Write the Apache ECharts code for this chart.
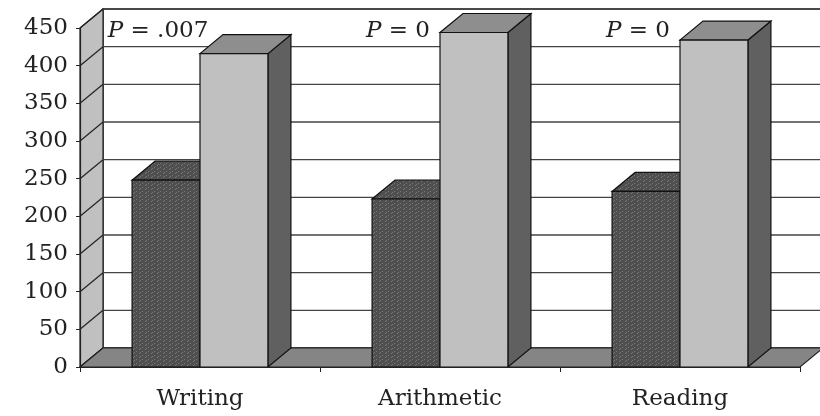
<!DOCTYPE html>
<html>
<head>
<meta charset="utf-8">
<script src="https://cdn.jsdelivr.net/npm/echarts@6/dist/echarts.min.js"></script>
<style>
  html, body { margin: 0; padding: 0; background: #fff; }
  #main { width: 820px; height: 416px; }
</style>
</head>
<body>
<div id="main"></div>
<script>
var categories = ['Writing', 'Arithmetic', 'Reading'];
var darkValues = [248, 223, 233];
var lightValues = [416, 444, 434];
var pLabels = ['P = .007', 'P = 0', 'P = 0'];
var yTicks = [0, 50, 100, 150, 200, 250, 300, 350, 400, 450];

// depth of the 3d box in pixels
var DX = 23, DY = -19;
var FONT = '"DejaVu Serif", "Liberation Serif", serif';

// little dotted texture for the dark bars
function makePattern() {
    var c = document.createElement('canvas');
    c.width = 6; c.height = 4;
    var ctx = c.getContext('2d');
    ctx.fillStyle = '#4f4f4f';
    ctx.fillRect(0, 0, 6, 4);
    ctx.fillStyle = '#787878';
    ctx.fillRect(1, 1, 1, 1);
    ctx.fillRect(4, 3, 1, 1);
    ctx.fillRect(2, 0, 1, 1);
    return { image: c, repeat: 'repeat' };
}
var darkFill = makePattern();

function renderWalls(params, api) {
    var cs = params.coordSys;
    var x0 = cs.x, x1 = cs.x + cs.width;
    var yt = cs.y, yb = cs.y + cs.height;
    var kids = [];
    kids.push({
        type: 'polygon',
        shape: { points: [[x0 + DX, yt + DY], [x1 + DX, yt + DY], [x1 + DX, yb + DY], [x0 + DX, yb + DY]] },
        style: { fill: '#fff', stroke: '#222', lineWidth: 1.5 }
    });
    kids.push({
        type: 'polygon',
        shape: { points: [[x0, yb], [x0, yt], [x0 + DX, yt + DY], [x0 + DX, yb + DY]] },
        style: { fill: '#c0c0c0', stroke: '#222', lineWidth: 1.2 }
    });
    for (var i = 0; i < yTicks.length; i++) {
        var y = api.coord([0, yTicks[i]])[1];
        kids.push({
            type: 'line',
            shape: { x1: x0 + DX, y1: y + DY, x2: x1 + DX, y2: y + DY },
            style: { stroke: '#444', lineWidth: 1.4 }
        });
        kids.push({
            type: 'line',
            shape: { x1: x0, y1: y, x2: x0 + DX, y2: y + DY },
            style: { stroke: '#222', lineWidth: 1.2 }
        });
    }
    kids.push({
        type: 'polygon',
        shape: { points: [[x0, yb], [x1, yb], [x1 + DX, yb + DY], [x0 + DX, yb + DY]] },
        style: { fill: '#858585', stroke: '#222', lineWidth: 1.2 }
    });
    return { type: 'group', children: kids };
}

function box(xl, xr, yTop, yBase, front, top, side) {
    return [
        {
            type: 'polygon',
            shape: { points: [[xr, yTop], [xr + DX, yTop + DY], [xr + DX, yBase + DY], [xr, yBase]] },
            style: { fill: side, stroke: '#111', lineWidth: 1.2 }
        },
        {
            type: 'polygon',
            shape: { points: [[xl, yTop], [xr, yTop], [xr + DX, yTop + DY], [xl + DX, yTop + DY]] },
            style: { fill: top, stroke: '#111', lineWidth: 1.2 }
        },
        {
            type: 'rect',
            shape: { x: xl, y: yTop, width: xr - xl, height: yBase - yTop },
            style: { fill: front, stroke: '#111', lineWidth: 1.2 }
        }
    ];
}

function renderBars(params, api) {
    var idx = api.value(0);
    var base = api.coord([idx, 0]);
    var cx = base[0], yb = base[1];
    var w = api.size([1, 0])[0] * 0.283;
    var yDark = api.coord([idx, api.value(1)])[1];
    var yLight = api.coord([idx, api.value(2)])[1];
    var kids = [];
    kids = kids.concat(box(cx - w, cx, yDark, yb, darkFill, darkFill, '#3c3c3c'));
    kids = kids.concat(box(cx, cx + w, yLight, yb, '#c0c0c0', '#8e8e8e', '#606060'));
    var txt = pLabels[idx].replace('P', '{i|P}');
    kids.push({
        type: 'text',
        x: cx - 42,
        y: api.coord([idx, 446])[1],
        style: {
            text: txt,
            fill: '#222',
            font: '23px ' + FONT,
            align: 'center',
            verticalAlign: 'middle',
            rich: { i: { fontStyle: 'italic', fontSize: 23, fontFamily: FONT, fill: '#222' } }
        }
    });
    return { type: 'group', children: kids };
}

var barData = [];
for (var i = 0; i < categories.length; i++) {
    barData.push([i, darkValues[i], lightValues[i]]);
}

var myChart = echarts.init(document.getElementById('main'));
var option = {
    animation: false,
    backgroundColor: '#fff',
    grid: { left: 80, right: 20, top: 28, bottom: 49 },
    xAxis: {
        type: 'category',
        data: categories,
        z: 5,
        axisLine: { show: true, lineStyle: { color: '#222', width: 1.2 } },
        axisTick: { show: true, length: 5, lineStyle: { color: '#222' } },
        axisLabel: { margin: 21, color: '#222', fontSize: 23, fontFamily: FONT },
        splitLine: { show: false }
    },
    yAxis: {
        type: 'value',
        min: 0,
        max: 450,
        interval: 50,
        z: 5,
        axisLine: { show: true, lineStyle: { color: '#222', width: 1.2 } },
        axisTick: { show: true, length: 4, lineStyle: { color: '#222' } },
        axisLabel: { margin: 12, color: '#222', fontSize: 23, fontFamily: FONT },
        splitLine: { show: false }
    },
    series: [
        {
            type: 'custom',
            z: 1,
            clip: false,
            silent: true,
            renderItem: renderWalls,
            data: [[0, 0]]
        },
        {
            type: 'custom',
            z: 3,
            clip: false,
            renderItem: renderBars,
            encode: { x: 0, y: [1, 2] },
            data: barData
        }
    ]
};
myChart.setOption(option, true);
</script>
</body>
</html>
